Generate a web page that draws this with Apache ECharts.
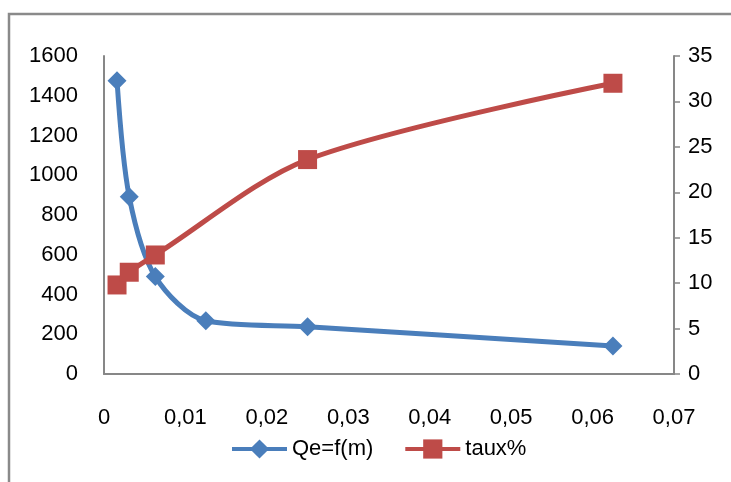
<!DOCTYPE html>
<html>
<head>
<meta charset="utf-8">
<script src="https://cdn.jsdelivr.net/npm/echarts@6/dist/echarts.min.js"></script>
<style>html,body{margin:0;padding:0;background:#fff;}#c{width:731px;height:482px;}</style>
</head>
<body>
<div id="c"></div>
<script>
const massQe = [0.0016, 0.0031, 0.0063, 0.0125, 0.025, 0.0625];
const qeValues = [1475, 892, 490, 268, 238, 141];
const massTaux = [0.0016, 0.0031, 0.0063, 0.025, 0.0625];
const tauxValues = [9.8, 11.2, 13.1, 23.6, 32.0];
const seriesNames = ['Qe=f(m)', 'taux%'];

const FONT = 'Liberation Sans';
const FS = 22;
const chart = echarts.init(document.getElementById('c'), null, {renderer: 'canvas'});
const axisColor = '#878787';
chart.setOption({
  animation: false,
  textStyle: {fontFamily: FONT},
  graphic: [{
    type: 'rect', shape: {x: 9, y: 14, width: 1000, height: 1000},
    style: {fill: 'none', stroke: '#8a8a8a', lineWidth: 2.5}, silent: true, z: -1
  }],
  grid: {left: 104, right: 57, top: 56, bottom: 108, containLabel: false},
  legend: {
    data: seriesNames, left: 230, top: 438, padding: 0, itemWidth: 55, itemHeight: 24, itemGap: 30,
    lineStyle: {width: 4},
    textStyle: {fontFamily: FONT, fontSize: FS, color: '#000'}
  },
  xAxis: {
    type: 'value', min: 0, max: 0.07, interval: 0.01,
    axisLine: {show: true, lineStyle: {color: axisColor, width: 2}},
    axisTick: {show: false}, splitLine: {show: false},
    axisLabel: {margin: 33, fontSize: FS, color: '#000', fontFamily: FONT,
      formatter: v => v === 0 ? '0' : v.toFixed(2).replace('.', ',')}
  },
  yAxis: [{
    type: 'value', min: 0, max: 1600, interval: 200, position: 'left',
    axisLine: {show: true, lineStyle: {color: axisColor, width: 2}},
    axisTick: {show: false}, splitLine: {show: false},
    axisLabel: {margin: 26, fontSize: FS, color: '#000', fontFamily: FONT, formatter: v => String(v)}
  }, {
    type: 'value', min: 0, max: 35, interval: 5, position: 'right',
    axisLine: {show: true, lineStyle: {color: axisColor, width: 2}},
    axisTick: {show: true, length: 6, lineStyle: {color: axisColor, width: 1.5}},
    splitLine: {show: false},
    axisLabel: {margin: 14, fontSize: FS, color: '#000', fontFamily: FONT, formatter: v => String(v)}
  }],
  series: [{
    name: seriesNames[0], type: 'line', yAxisIndex: 0, smooth: 0.3,
    data: massQe.map((m, i) => [m, qeValues[i]]),
    symbol: 'diamond', symbolSize: 19,
    itemStyle: {color: '#4A7EBB'},
    lineStyle: {color: '#4A7EBB', width: 5}
  }, {
    name: seriesNames[1], type: 'line', yAxisIndex: 1, smooth: 0.3,
    data: massTaux.map((m, i) => [m, tauxValues[i]]),
    symbol: 'rect', symbolSize: 19,
    itemStyle: {color: '#BE4B48'},
    lineStyle: {color: '#BE4B48', width: 5}
  }]
});
</script>
</body>
</html>
